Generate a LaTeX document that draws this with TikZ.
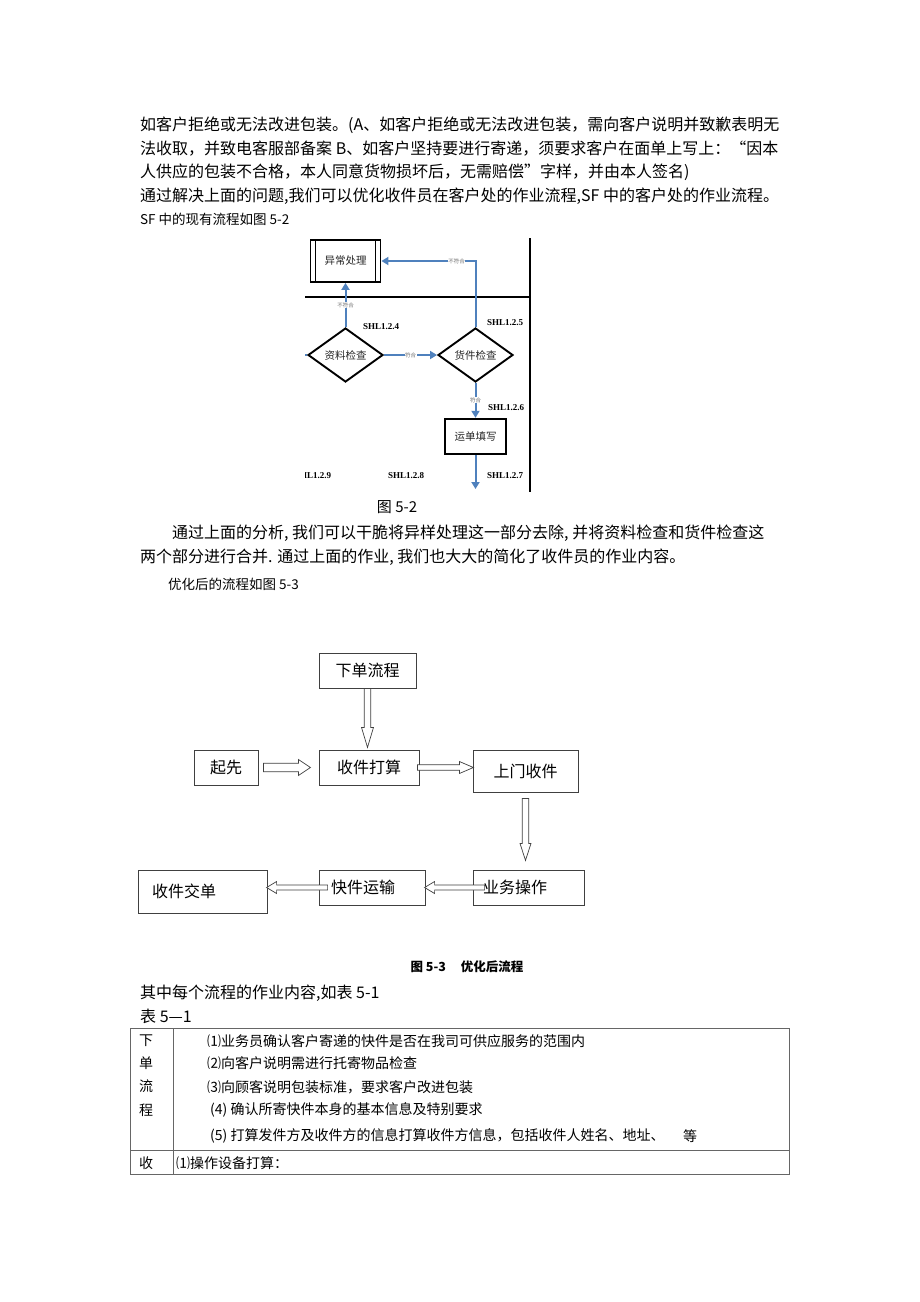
\documentclass[tikz,border=0pt]{standalone}
\usepackage{fontspec}
\setmainfont{Noto Sans CJK SC}
\newfontfamily\shlfont{Liberation Serif}
\usetikzlibrary{shapes.geometric, arrows.meta}

\definecolor{figblue}{RGB}{79,129,189}
\newcommand\fsz[1]{\fontsize{#1}{#1}\selectfont}
% hollow block arrow: tail, angle, length, shaft half, head half, head length
\newcommand\hollowarrow[6]{%
  \draw[hollow, shift={(#1)}, rotate=#2]
    (0,-#4) -- (#3-#6,-#4) -- (#3-#6,-#5) -- (#3,0) -- (#3-#6,#5) -- (#3-#6,#4) -- (0,#4) -- cycle;}

\tikzset{
  bodytext/.style={anchor=west, inner sep=0pt, font=\fsz{16}},
  smalltext/.style={anchor=west, inner sep=0pt, font=\fsz{13.5}},
  cell/.style={anchor=west, inner sep=0pt, font=\fsz{14}},
  flowbox/.style={draw=black!75, line width=0.8pt, inner sep=0pt, font=\fsz{16}, minimum height=35},
  hollow/.style={draw=black!75, line width=0.7pt, fill=white, line join=miter},
  bluearrow/.style={draw=figblue, line width=2pt, -{Triangle[length=7pt, width=8pt]}},
  chk/.style={draw, line width=1.9pt, shape=diamond, aspect=1.4, minimum width=75, minimum height=54,
              inner sep=0pt, font=\fsz{10.5}, text=black!85},
  figbox/.style={draw, inner sep=0pt, font=\fsz{10.5}, text=black!85},
  tag/.style={anchor=west, inner sep=0pt, font=\shlfont\bfseries\fsz{9}},
  tiny/.style={font=\fsz{5.5}, text=black!55, fill=white, inner sep=0.5pt},
}

\begin{document}
\begin{tikzpicture}[x=1pt, y=-1pt]
  \fill[white] (0,0) rectangle (920,1302);
  \useasboundingbox (0,0) rectangle (920,1302);

  % running text above
  \node[bodytext] (l1) at (140,125) {如客户拒绝或无法改进包装。(A、如客户拒绝或无法改进包装，需向客户说明并致歉表明无};
  \node[bodytext] (l2) at (140,149) {法收取，并致电客服部备案 B、如客户坚持要进行寄递，须要求客户在面单上写上：“因本};
  \node[bodytext] (l3) at (140,172) {人供应的包装不合格，本人同意货物损坏后，无需赔偿”字样，并由本人签名)};
  \node[bodytext] (l4) at (140,196) {通过解决上面的问题,我们可以优化收件员在客户处的作业流程,SF 中的客户处的作业流程。};
  \node[smalltext] (l5) at (140,219) {SF 中的现有流程如图 5-2};

  % figure 5-2 (existing process)
  \begin{scope}
    \clip (305,238) rectangle (533,491);
    \draw[line width=1.8pt] (530,236) -- (530,493);
    \draw[line width=1.8pt] (300,297) -- (530,297);
    \node[figbox, line width=1.8pt, minimum width=70, minimum height=42] (yichang) at (345.5,261) {异常处理};
    \draw[line width=1.4pt] ([xshift=6]yichang.north west) -- ([xshift=6]yichang.south west);
    \draw[line width=1.4pt] ([xshift=-6]yichang.north east) -- ([xshift=-6]yichang.south east);
    \node[chk] (ziliao) at (345.5,355) {资料检查};
    \node[chk] (huojian) at (475.5,355) {货件检查};
    \node[figbox, line width=2.4pt, minimum width=61, minimum height=35] (yundan) at (475.5,436.5) {运单填写};
    \coordinate (inlet) at (298,355);
    \coordinate (outlet) at (475.5,489);

    \draw[bluearrow, -] (inlet) -- (ziliao.west);
    \draw[bluearrow] (ziliao.north) -- node[tiny, pos=0.5] {不符合} (yichang.south);
    \draw[bluearrow] (huojian.north) |- node[tiny, pos=0.6] {不符合} (yichang.east);
    \draw[bluearrow] (ziliao.east) -- node[tiny] {符合} (huojian.west);
    \draw[bluearrow] (huojian.south) -- node[tiny] {符合} (yundan.north);
    \draw[bluearrow] (yundan.south) -- (outlet);

    \node[tag] (t4) at (363,327) {SHL1.2.4};
    \node[tag] (t5) at (487,323) {SHL1.2.5};
    \node[tag] (t6) at (488,408) {SHL1.2.6};
    \node[tag] (t7) at (487,476) {SHL1.2.7};
    \node[tag] (t8) at (388,476) {SHL1.2.8};
    \node[tag] (t9) at (295,476) {SHL1.2.9};
  \end{scope}
  \node[font=\fsz{15}, inner sep=0pt] (cap2) at (397,507) {图 5-2};

  \node[bodytext] (p1) at (172,533) {通过上面的分析, 我们可以干脆将异样处理这一部分去除, 并将资料检查和货件检查这};
  \node[bodytext] (p2) at (140,557) {两个部分进行合并. 通过上面的作业, 我们也大大的简化了收件员的作业内容。};
  \node[smalltext] (p3) at (168,584) {优化后的流程如图 5-3};

  % figure 5-3 (optimised process)
  \node[flowbox, minimum width=97] (xiadan) at (367.5,670.5) {下单流程};
  \node[flowbox, minimum width=64] (qixian) at (226,767.5) {起先};
  \node[flowbox, minimum width=100] (dasuan) at (369,767.5) {收件打算};
  \node[flowbox, minimum width=105, minimum height=42] (shangmen) at (525.5,771) {上门收件};
  \node[flowbox, text width=91, inner xsep=10, align=left] (yewu) at (528.5,887.5) {业务操作};
  \node[flowbox, text width=82, inner xsep=12, align=left] (yunshu) at (372,887.5) {快件运输};
  \node[flowbox, minimum height=43, text width=101, inner xsep=14, align=left] (jiaodan) at (202.5,891.5) {收件交单};

  \hollowarrow{xiadan.south}{-90}{59}{3.2}{6}{20}
  \hollowarrow{[xshift=5]qixian.east}{0}{47}{4.2}{8}{12}
  \hollowarrow{[xshift=-2]dasuan.east}{0}{56}{2.7}{6}{14}
  \hollowarrow{[yshift=-6]shangmen.south}{-90}{62}{3.3}{5.5}{17}
  \hollowarrow{[xshift=12]yewu.west}{180}{60}{2.5}{6}{10}
  \hollowarrow{[xshift=9]yunshu.west}{180}{61}{2.5}{6}{10}

  \node[font=\bfseries\fsz{12.5}, inner sep=0pt] (cap3) at (467,967) {图 5-3\hspace{1.2em}优化后流程};

  \node[bodytext] (q1) at (140,993) {其中每个流程的作业内容,如表 5-1};
  \node[bodytext] (q2) at (140,1016) {表 5—1};

  % table 5-1
  \draw[black!60, line width=0.9pt] (130,1028) rectangle (789,1174);
  \draw[black!60, line width=0.9pt] (173,1028) -- (173,1174);
  \draw[black!60, line width=0.9pt] (130,1150) -- (789,1150);
  \foreach \ch/\y in {下/1041, 单/1063, 流/1086, 程/1110, 收/1163}
    \node[font=\fsz{14}, inner sep=0pt] at (146,\y) {\ch};
  \node[cell] (r1) at (207,1041) {⑴业务员确认客户寄递的快件是否在我司可供应服务的范围内};
  \node[cell] (r2) at (207,1063) {⑵向客户说明需进行托寄物品检查};
  \node[cell] (r3) at (207,1087) {⑶向顾客说明包装标准，要求客户改进包装};
  \node[cell] (r4) at (210,1110) {(4) 确认所寄快件本身的基本信息及特别要求};
  \node[cell] (r5) at (210,1136) {(5) 打算发件方及收件方的信息打算收件方信息，包括收件人姓名、地址、};
  \node[cell] (r5b) at (683,1136) {等};
  \node[cell] (r6) at (176,1163) {⑴操作设备打算：};
\end{tikzpicture}
\end{document}
